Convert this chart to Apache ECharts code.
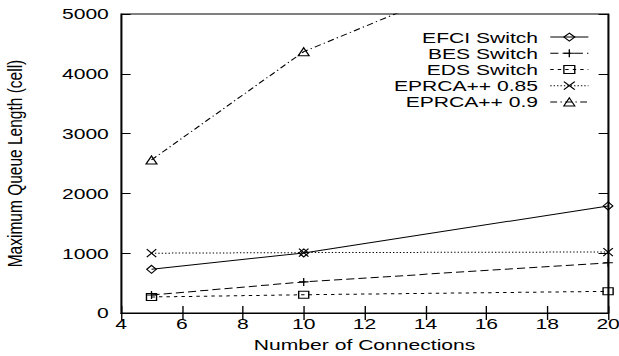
<!DOCTYPE html>
<html>
<head>
<meta charset="utf-8">
<script src="https://cdn.jsdelivr.net/npm/echarts@6/dist/echarts.min.js"></script>
<style>
  html, body { margin: 0; padding: 0; background: #fff; overflow: hidden; }
  #wrap { width: 619px; height: 356px; overflow: hidden; }
  /* the figure is drawn narrow and stretched horizontally, like the printed plot */
  #chart { width: 455px; height: 356px; transform: scaleX(1.3604); transform-origin: 0 0; }
</style>
</head>
<body>
<div id="wrap"><div id="chart"></div></div>
<script>
// Number of connections on the x axis
const connections = [5, 10, 20];

// Maximum queue length (cells) per scheme
const efciSwitch = [730, 1005, 1790];
const besSwitch = [300, 520, 840];
const edsSwitch = [268, 305, 362];
const eprca085 = [1000, 1010, 1020];
const eprca09 = [2560, 4370, 6470];

const seriesNames = ['EFCI Switch', 'BES Switch', 'EDS Switch', 'EPRCA++ 0.85', 'EPRCA++ 0.9'];

const xTicks = { min: 4, max: 20, interval: 2 };
const yTicks = { min: 0, max: 5000, interval: 1000 };

const FONT = 'Liberation Sans, Arial, Helvetica, sans-serif';
const FS = 15.5;

const pairs = (vals) => connections.map((c, i) => [c, vals[i]]);

function makeSeries(name, vals, symbol, size, dash) {
  return {
    name: name,
    type: 'line',
    xAxisIndex: 0,
    yAxisIndex: 0,
    data: pairs(vals),
    symbol: symbol,
    symbolSize: size,
    showSymbol: true,
    clip: true,
    animation: false,
    lineStyle: { color: '#000', width: 1, type: dash },
    itemStyle: { color: 'rgba(0,0,0,0)', borderColor: '#000', borderWidth: 1 },
    emphasis: { disabled: true }
  };
}

const chart = echarts.init(document.getElementById('chart'), null, { renderer: 'svg' });

const axisLineStyle = { show: true, lineStyle: { color: '#000', width: 1 } };
const tickStyle = { show: true, inside: true, length: 7, lineStyle: { color: '#000', width: 1 } };

chart.setOption({
  animation: false,
  backgroundColor: '#fff',
  grid: {
    left: 89, right: 8, top: 14, bottom: 43,
    outerBoundsMode: 'none',
    show: true, borderColor: '#000', borderWidth: 1, backgroundColor: 'transparent'
  },
  legend: {
    orient: 'vertical',
    right: 22,
    top: 29,
    align: 'right',
    padding: 0,
    itemWidth: 28,
    itemHeight: 10,
    itemGap: 0,
    selectedMode: false,
    data: seriesNames,
    lineStyle: { width: 1 },
    itemStyle: { borderWidth: 1 },
    textStyle: {
      fontFamily: FONT, fontSize: FS, color: '#000',
      lineHeight: 16.2, padding: [0, 4, 0, 0]
    }
  },
  xAxis: [
    {
      type: 'value', position: 'bottom',
      min: xTicks.min, max: xTicks.max, interval: xTicks.interval,
      axisLine: axisLineStyle, axisTick: tickStyle, splitLine: { show: false },
      axisLabel: { color: '#000', fontFamily: FONT, fontSize: FS, margin: 3 },
      name: 'Number of Connections', nameLocation: 'middle', nameGap: 14,
      nameTextStyle: { color: '#000', fontFamily: FONT, fontSize: FS }
    },
    {
      type: 'value', position: 'top',
      min: xTicks.min, max: xTicks.max, interval: xTicks.interval,
      axisLine: axisLineStyle, axisTick: tickStyle, splitLine: { show: false },
      axisLabel: { show: false }
    }
  ],
  yAxis: [
    {
      type: 'value', position: 'left',
      min: yTicks.min, max: yTicks.max, interval: yTicks.interval,
      axisLine: axisLineStyle, axisTick: tickStyle, splitLine: { show: false },
      axisLabel: {
        color: '#000', fontFamily: FONT, fontSize: FS, margin: 9,
        formatter: (v) => String(v)
      },
      name: 'Maximum Queue Length (cell)', nameLocation: 'middle', nameRotate: 90, nameGap: 70,
      nameTextStyle: { color: '#000', fontFamily: FONT, fontSize: FS }
    },
    {
      type: 'value', position: 'right',
      min: yTicks.min, max: yTicks.max, interval: yTicks.interval,
      axisLine: axisLineStyle, axisTick: tickStyle, splitLine: { show: false },
      axisLabel: { show: false }
    }
  ],
  series: [
    makeSeries(seriesNames[0], efciSwitch, 'diamond', [7, 8], 'solid'),
    makeSeries(seriesNames[1], besSwitch, 'path://M0,5H10M5,0V10', [7, 8], [6, 3]),
    makeSeries(seriesNames[2], edsSwitch, 'rect', [7.4, 7], [2.5, 3]),
    makeSeries(seriesNames[3], eprca085, 'path://M0,0L10,10M10,0L0,10', [7, 8], [1, 1.5]),
    makeSeries(seriesNames[4], eprca09, 'triangle', [8, 8], [5, 2.5, 1, 2.5])
  ]
});
</script>
</body>
</html>
